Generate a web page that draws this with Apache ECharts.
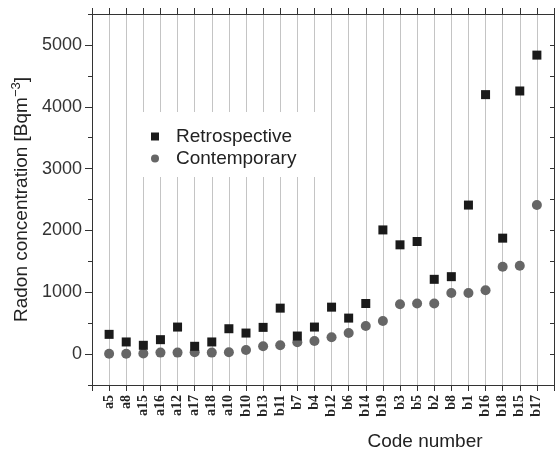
<!DOCTYPE html>
<html><head><meta charset="utf-8">
<script src="https://cdn.jsdelivr.net/npm/echarts@6/dist/echarts.min.js"></script>
<style>html,body{margin:0;padding:0;background:#fff}#c{width:556px;height:456px}</style>
</head><body><div id="c"></div>
<script>
const categories = ['a5','a8','a15','a16','a12','a17','a18','a10','b10','b13','b11','b7','b4','b12','b6','b14','b19','b3','b5','b2','b8','b1','b16','b18','b15','b17'];
const retrospective = [319,196,142,233,437,126,196,410,340,432,743,292,437,759,582,818,2008,1767,1821,1209,1252,2410,4196,1875,4255,4835];
const contemporary = [5,5,8,24,24,30,24,30,67,126,142,190,212,271,340,453,534,807,818,818,989,989,1032,1413,1429,2410];
const yTickLabels = [0,1000,2000,3000,4000,5000];

const chart = echarts.init(document.getElementById('c'), null, {renderer:'canvas'});
const axisColor = '#333';
const sans = 'Liberation Sans, Arial, sans-serif';
const yBase = {type:'value', min:-500, max:5500, interval:500, splitLine:{show:false}};
const xBase = {type:'value', min:0, max:27, interval:1};
chart.setOption({
  animation:false,
  backgroundColor:'#fff',
  grid:{left:92, right:2, top:14, bottom:69, containLabel:false},
  legend:{
    orient:'vertical', left:137, top:112,
    backgroundColor:'#fff',
    padding:[15,24,9,14],
    itemWidth:8, itemHeight:8, itemGap:3,
    textStyle:{fontFamily:sans, fontSize:19, color:'#222', padding:[0,0,0,12]},
    data:['Retrospective','Contemporary']
  },
  xAxis:[
    Object.assign({}, xBase, {
      position:'bottom',
      axisLine:{show:true, onZero:false, lineStyle:{color:axisColor, width:1}},
      axisTick:{show:true, inside:false, length:6, lineStyle:{color:axisColor}},
      splitLine:{show:true, lineStyle:{color:'#c4c4c4', width:1}},
      axisLabel:{
        rotate:90, margin:10, fontFamily:'Liberation Serif, Times New Roman, serif', fontWeight:'bold', fontSize:14, color:'#222',
        formatter:function(v){ return (Number.isInteger(v) && categories[v-1]) ? categories[v-1] : ''; }
      },
      name:'Code number', nameLocation:'middle', nameGap:47,
      nameTextStyle:{fontFamily:sans, fontSize:19, color:'#222', padding:[0,0,0,204]}
    }),
    Object.assign({}, xBase, {
      position:'top',
      axisLine:{show:true, onZero:false, lineStyle:{color:axisColor, width:1}},
      axisTick:{show:true, inside:false, length:6, lineStyle:{color:axisColor}},
      axisLabel:{show:false}, splitLine:{show:false}
    })
  ],
  yAxis:[
    Object.assign({}, yBase, {
      position:'left',
      axisLine:{show:true, onZero:false, lineStyle:{color:axisColor, width:1}},
      axisTick:{show:true, inside:false, length:4, lineStyle:{color:axisColor}},
      axisLabel:{customValues:yTickLabels, fontFamily:sans, fontSize:18, color:'#333', margin:10,
        formatter:function(v){ return String(v); }},
      name:'Radon concentration [Bqm{sup|\u22123}]', nameLocation:'middle', nameGap:58,
      nameTextStyle:{fontFamily:sans, fontSize:19, color:'#222',
        rich:{sup:{fontFamily:sans, fontSize:13, color:'#222', verticalAlign:'top', padding:[0,0,10,0]}}}
    }),
    Object.assign({}, yBase, {
      position:'left',
      axisLine:{show:false, onZero:false},
      axisTick:{show:true, inside:false, length:7, customValues:yTickLabels, lineStyle:{color:axisColor}},
      axisLabel:{show:false}
    }),
    Object.assign({}, yBase, {
      position:'right',
      axisLine:{show:true, onZero:false, lineStyle:{color:axisColor, width:1}},
      axisTick:{show:true, inside:true, length:4, lineStyle:{color:axisColor}},
      axisLabel:{show:false}
    })
  ],
  series:[
    {name:'Retrospective', type:'scatter', symbol:'rect', symbolSize:9,
     itemStyle:{color:'#1a1a1a', opacity:1}, z:3,
     data:retrospective.map((v,i)=>[i+1,v])},
    {name:'Contemporary', type:'scatter', symbol:'circle', symbolSize:10,
     itemStyle:{color:'#666666', opacity:1}, z:2,
     data:contemporary.map((v,i)=>[i+1,v])}
  ]
});
</script></body></html>
